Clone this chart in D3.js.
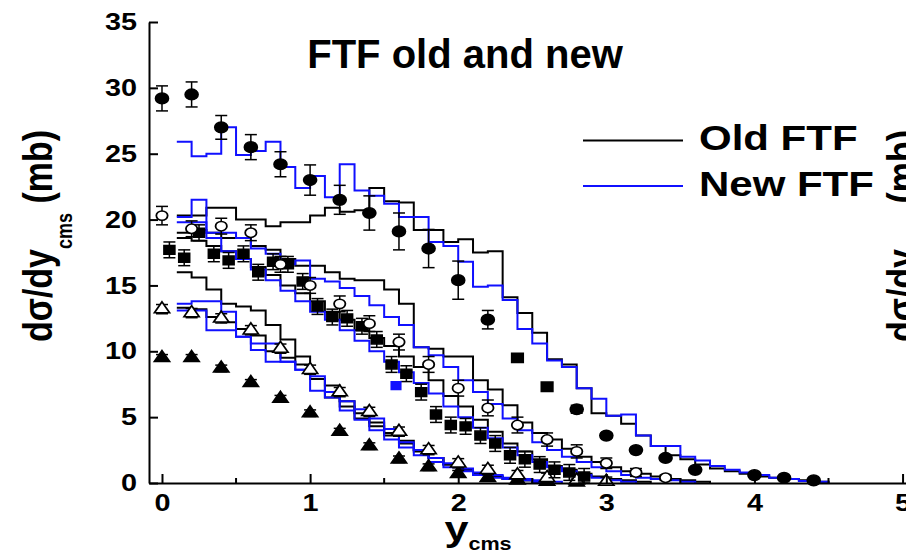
<!DOCTYPE html>
<html>
<head>
<meta charset="utf-8">
<script src="https://cdn.jsdelivr.net/npm/d3@7"></script>
<style>
body { margin: 0; background: #fff; }
svg text { font-family: "Liberation Sans", Arial, sans-serif; font-weight: bold; fill: #000; }
</style>
</head>
<body>
<div id="chart"></div>
<script>
// measured points (y_cms, dsigma/dy, error)
var fcX = [0, 0.2, 0.4, 0.6, 0.8, 1.0, 1.2, 1.4, 1.6, 1.8, 2.0, 2.2, 2.8, 3.0, 3.2, 3.4, 3.6, 4.0, 4.2, 4.4];
var fcY = [29.2, 29.5, 27.0, 25.5, 24.2, 23.0, 21.5, 20.5, 19.1, 17.8, 15.4, 12.4, 5.6, 3.6, 2.5, 1.9, 1.0, 0.6, 0.4, 0.2];
var fcErr = [0.95, 0.95, 0.9, 0.95, 0.95, 1.15, 1.1, 1.3, 1.4, 1.45, 1.45, 0.7, 0.3, 0.2, 0.2, 0.2, 0.1, 0.1, 0.1, 0.1];

var fs2X = [2.4, 2.6];
var fs2Y = [9.5, 7.3];
var fs2Err = [0.3, 0.3];

var ocX = [0, 0.2, 0.4, 0.6, 0.8, 1.0, 1.2, 1.4, 1.6, 1.8, 2.0, 2.2, 2.4, 2.6, 2.8, 3.0, 3.2, 3.4];
var ocY = [20.3, 19.3, 19.5, 19.0, 16.6, 15.0, 13.6, 12.1, 10.7, 9.0, 7.2, 5.7, 4.4, 3.3, 2.4, 1.5, 0.8, 0.4];
var ocErr = [0.7, 0.6, 0.6, 0.6, 0.6, 0.6, 0.6, 0.6, 0.6, 0.6, 0.6, 0.6, 0.6, 0.5, 0.5, 0.4, 0.3, 0.2];

var fsX = [0.05, 0.15, 0.25, 0.35, 0.45, 0.55, 0.65, 0.75, 0.85, 0.95, 1.05, 1.15, 1.25, 1.35, 1.45,
	1.55, 1.65, 1.75, 1.85, 1.95, 2.05, 2.15, 2.25, 2.35, 2.45, 2.55, 2.65, 2.75, 2.85];
var fsY = [17.7, 17.1, 19.0, 17.4, 16.9, 17.4, 16.0, 16.8, 16.6, 15.3, 13.4, 12.6, 12.5, 11.9, 10.9,
	9.0, 8.3, 6.9, 5.2, 4.4, 4.3, 3.6, 3.0, 2.1, 1.8, 1.4, 1.0, 0.8, 0.5];
var fsErr = 0.6;

var otX = [0, 0.2, 0.4, 0.6, 0.8, 1.0, 1.2, 1.4, 1.6, 1.8, 2.0, 2.2, 2.4, 2.6, 2.8, 3.0];
var otY = [13.2, 12.9, 12.5, 11.6, 10.2, 8.6, 6.9, 5.4, 3.9, 2.5, 1.5, 1.0, 0.6, 0.4, 0.2, 0.1];
var otErr = 0.35;

var ftX = [0, 0.2, 0.4, 0.6, 0.8, 1.0, 1.2, 1.4, 1.6, 1.8, 2.0, 2.2, 2.4, 2.6, 2.8];
var ftY = [9.5, 9.5, 8.7, 7.6, 6.4, 5.3, 3.9, 2.8, 1.8, 1.2, 0.7, 0.4, 0.2, 0.1, 0.05];
var ftErr = 0.25;

var bluePtX = [1.58];
var bluePtY = [7.4];

// model histograms, bins of 0.1 starting at y_cms = 0.1
var histStart = 0.1, binW = 0.1;
var oldA = [20.3, 20.3, 20.9, 20.9, 20.0, 20.0, 19.5, 19.8, 19.8, 20.3, 20.9, 20.6, 20.7, 22.4, 21.4, 21.3, 19.2, 19.2, 18.3, 18.5,
	17.5, 17.6, 14.1, 12.9, 11.4, 9.4, 9.0, 7.2, 5.3, 5.1, 4.5, 3.6, 2.8, 2.1, 1.8, 1.4, 1.1, 0.9, 0.7, 0.5, 0.4, 0.3, 0.2, 0.1];
var newA = [25.9, 24.8, 25.0, 27.0, 24.9, 25.2, 25.9, 24.0, 22.4, 23.3, 21.7, 24.2, 22.2, 21.8, 21.2, 20.2, 20.2, 18.3, 18.0, 16.8,
	14.9, 15.0, 13.9, 11.7, 10.6, 9.3, 8.8, 7.2, 6.4, 5.1, 5.2, 3.6, 2.8, 2.8, 2.0, 1.7, 1.3, 1.0, 0.8, 0.6, 0.4, 0.3, 0.15, 0.1];
var oldB = [19.0, 19.2, 19.0, 18.6, 18.6, 18.0, 17.7, 17.0, 16.5, 16.5, 16.0, 15.5, 15.4, 15.4, 14.7, 13.6, 10.3, 10.2, 9.6, 9.6,
	7.8, 7.1, 5.9, 4.6, 3.8, 3.3, 2.6, 2.0, 1.6, 1.2, 0.9, 0.7, 0.5, 0.3, 0.2, 0.1];
var newB = [20.2, 21.5, 19.0, 19.0, 18.6, 17.8, 17.4, 16.6, 16.9, 15.5, 15.3, 14.8, 14.2, 13.5, 12.6, 12.0, 10.3, 9.7, 8.8, 7.8,
	6.9, 6.0, 4.9, 4.0, 3.1, 2.5, 2.0, 1.6, 1.2, 0.9, 0.6, 0.4, 0.3, 0.2, 0.1];
var oldC = [18.6, 18.4, 18.0, 17.6, 17.0, 16.4, 15.8, 15.0, 14.4, 13.8, 13.0, 12.4, 11.6, 11.0, 10.4, 9.6, 8.8, 7.8, 6.6, 5.8,
	4.8, 3.9, 3.0, 2.4, 1.8, 1.3, 1.0, 0.7, 0.5, 0.3, 0.2, 0.1];
var newC = [19.8, 19.8, 18.6, 17.6, 17.0, 16.2, 15.4, 14.6, 13.8, 13.0, 12.4, 11.6, 10.8, 10.0, 9.2, 8.4, 7.6, 6.8, 5.8, 5.0,
	4.2, 3.4, 2.7, 2.1, 1.6, 1.2, 0.9, 0.6, 0.4, 0.2, 0.1];
var oldD = [16.0, 15.6, 14.7, 13.6, 13.4, 13.1, 12.0, 10.9, 9.6, 7.9, 7.4, 6.2, 5.3, 4.6, 3.8, 3.2, 2.5, 1.9, 1.4, 1.0,
	0.7, 0.5, 0.3, 0.2, 0.1];
var oldE = [13.3, 13.2, 12.6, 12.2, 11.7, 11.2, 10.0, 9.5, 9.0, 7.9, 6.5, 5.8, 4.9, 4.3, 3.6, 3.0, 2.4, 1.9, 1.4, 1.0,
	0.7, 0.5, 0.3, 0.2, 0.1];
var newD = [13.6, 13.8, 13.8, 13.0, 11.1, 10.6, 10.6, 9.2, 8.6, 8.1, 6.9, 6.2, 5.6, 4.9, 4.1, 3.1, 2.5, 1.9, 1.5, 1.1,
	0.8, 0.6, 0.4, 0.3, 0.2, 0.1];
var newE = [13.1, 13.1, 11.6, 11.6, 11.1, 10.1, 9.2, 9.2, 8.6, 7.0, 6.5, 5.5, 4.8, 4.0, 3.3, 2.7, 2.1, 1.6, 1.2, 0.9,
	0.6, 0.4, 0.3, 0.2, 0.1];

var yTicks = [0, 5, 10, 15, 20, 25, 30, 35];
var xTicks = [0, 1, 2, 3, 4, 5];
var xMinorTicks = [0.5, 1.5, 2.5, 3.5, 4.5];
var legendLabels = ["Old FTF", "New FTF"];

var BLUE = "#1010ff";
var SX = 1.2; // the picture is stretched sideways

var width = 906, height = 553;
var svg = d3.select("#chart").append("svg")
	.attr("width", width)
	.attr("height", height);
svg.append("rect").attr("width", width).attr("height", height).attr("fill", "#fff");

var x = d3.scaleLinear().domain([-0.0877, 5.03]).range([149, 907]);
var y = d3.scaleLinear().domain([0, 35]).range([483, 22]);

// histograms
var line = d3.line()
	.x(function(d) { return x(d[0]); })
	.y(function(d) { return y(d[1]); })
	.curve(d3.curveStepAfter);

function drawHist(vals, color) {
	var pts = vals.map(function(v, i) { return [histStart + i * binW, v]; });
	var xe = histStart + vals.length * binW;
	pts.push([xe, vals[vals.length - 1]]);
	pts.push([xe, 0]);
	svg.append("path")
		.attr("d", line(pts))
		.attr("fill", "none")
		.attr("stroke", color)
		.attr("stroke-width", 2);
}
drawHist(oldA, "#000");
drawHist(oldB, "#000");
drawHist(oldC, "#000");
drawHist(oldD, "#000");
drawHist(oldE, "#000");
drawHist(newA, BLUE);
drawHist(newB, BLUE);
drawHist(newC, BLUE);
drawHist(newD, BLUE);
drawHist(newE, BLUE);

// data points with error bars
function drawPoints(xs, ys, errs, shape, size, filled, color) {
	color = color || "#000";
	var g = svg.append("g");
	xs.forEach(function(xv, i) {
		var e = Array.isArray(errs) ? errs[i] : errs;
		var cx = x(xv), cy = y(ys[i]);
		if (e > 0) {
			var y1 = y(ys[i] + e), y2 = y(Math.max(ys[i] - e, 0));
			g.append("line").attr("x1", cx).attr("x2", cx).attr("y1", y1).attr("y2", y2)
				.attr("stroke", color).attr("stroke-width", 1.5);
			[y1, y2].forEach(function(yy) {
				g.append("line").attr("x1", cx - 6).attr("x2", cx + 6).attr("y1", yy).attr("y2", yy)
					.attr("stroke", color).attr("stroke-width", 1.5);
			});
		}
		g.append("path")
			.attr("d", d3.symbol().type(shape).size(size)())
			.attr("transform", "translate(" + cx + "," + cy + ") scale(" + SX + ",1)")
			.attr("fill", filled ? color : "#fff")
			.attr("stroke", color)
			.attr("stroke-width", 1.5);
	});
}
drawPoints(ftX, ftY, ftErr, d3.symbolTriangle, 70, true);
drawPoints(otX, otY, otErr, d3.symbolTriangle, 70, false);
drawPoints(fsX, fsY, fsErr, d3.symbolSquare, 80, true);
drawPoints(fs2X, fs2Y, fs2Err, d3.symbolSquare, 90, true);
drawPoints(ocX, ocY, ocErr, d3.symbolCircle, 70, false);
drawPoints(fcX, fcY, fcErr, d3.symbolCircle, 90, true);
drawPoints(bluePtX, bluePtY, 0, d3.symbolSquare, 60, true, BLUE);

// axes
var yAxis = d3.axisLeft(y).tickValues(yTicks).tickSize(-9).tickSizeOuter(0).tickPadding(13);
var xAxis = d3.axisBottom(x).tickValues(xTicks).tickFormat(d3.format("d"))
	.tickSize(-9).tickSizeOuter(0).tickPadding(11);

var gy = svg.append("g").attr("transform", "translate(149,0)").call(yAxis);
var gx = svg.append("g").attr("transform", "translate(0,483)").call(xAxis);
[gx, gy].forEach(function(g) {
	g.select(".domain").attr("stroke", "#000").attr("stroke-width", 2);
	g.selectAll(".tick line").attr("stroke", "#000").attr("stroke-width", 2);
	g.selectAll(".tick text")
		.style("font-size", "24px")
		.style("font-family", "'Liberation Sans', Arial, sans-serif")
		.style("font-weight", "bold");
});
gy.selectAll(".tick text").attr("transform", "scale(" + SX + ",1)").attr("x", -12 / SX);
gx.selectAll(".tick text").attr("transform", "scale(" + SX + ",1)");

svg.append("g").selectAll("line")
	.data(xMinorTicks)
	.enter()
		.append("line")
		.attr("x1", function(d) { return x(d); })
		.attr("x2", function(d) { return x(d); })
		.attr("y1", 483)
		.attr("y2", 478)
		.attr("stroke", "#000")
		.attr("stroke-width", 2);

// title
svg.append("text")
	.attr("transform", "translate(465,68)")
	.attr("text-anchor", "middle")
	.style("font-size", "40px")
	.text("FTF old and new");

// legend
[["#000", 140.5, 150], [BLUE, 186, 196]].forEach(function(d, i) {
	svg.append("line")
		.attr("x1", 583).attr("x2", 683)
		.attr("y1", d[1]).attr("y2", d[1])
		.attr("stroke", d[0]).attr("stroke-width", 2);
	svg.append("text")
		.attr("transform", "translate(699," + d[2] + ") scale(" + SX + ",1)")
		.style("font-size", "35px")
		.text(legendLabels[i]);
});

// axis titles
function yTitle(bx) {
	var t = svg.append("text")
		.attr("transform", "translate(" + bx + ",236) scale(" + SX + ",1) rotate(-90)")
		.attr("text-anchor", "middle")
		.style("font-size", "34px");
	t.append("tspan").text("d\u03c3/dy");
	t.append("tspan").attr("dy", 17).style("font-size", "18px").text("cms");
	t.append("tspan").attr("dy", -17).text(" (mb)");
}
yTitle(52);
yTitle(916);

var xt = svg.append("text")
	.attr("transform", "translate(478,541) scale(" + SX + ",1)")
	.attr("text-anchor", "middle")
	.style("font-size", "36px");
xt.append("tspan").text("y");
xt.append("tspan").attr("dy", 9).style("font-size", "18px").text("cms");
</script>
</body>
</html>
